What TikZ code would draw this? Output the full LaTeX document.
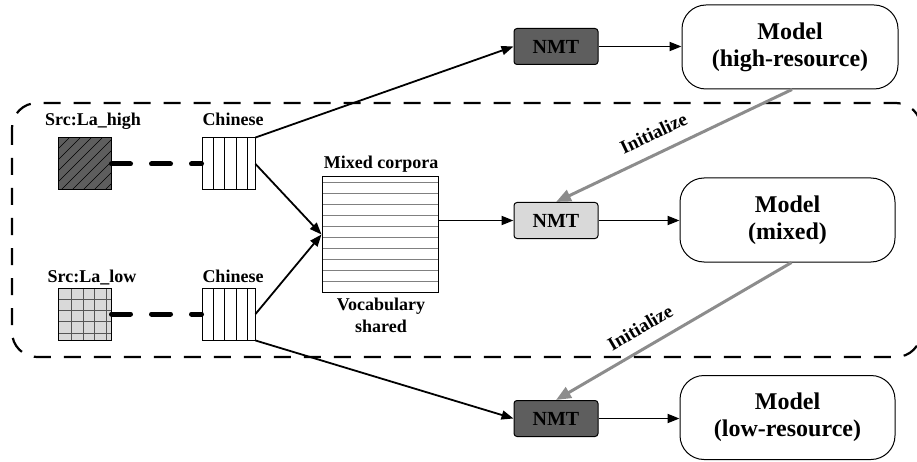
\documentclass[tikz,border=0pt]{standalone}
\usepackage{fontspec}
\setmainfont{Liberation Serif}[BoldFont={Liberation Serif Bold}]
\usetikzlibrary{arrows.meta,calc}
\definecolor{darkfill}{HTML}{5E5E5E}
\definecolor{lightfill}{HTML}{D9D9D9}
\definecolor{initgray}{HTML}{8C8C8C}
\definecolor{gridgray}{HTML}{555555}
\definecolor{linegray}{HTML}{808080}
\begin{document}
\begin{tikzpicture}[x=1pt,y=-1pt,
  lbl/.style={font=\rmfamily\bfseries\fontsize{18}{20}\selectfont, inner sep=0pt, anchor=base},
  initlbl/.style={font=\rmfamily\bfseries\fontsize{19}{20}\selectfont, inner sep=0pt},
  nmtbox/.style={draw, line width=1pt, rounded corners=3pt, minimum width=84pt, minimum height=36pt, inner sep=0pt, font=\rmfamily\bfseries\fontsize{20}{22}\selectfont},
  modelbox/.style={draw, line width=1pt, rounded corners=24pt, minimum width=215pt, minimum height=84pt, inner sep=0pt, align=center, font=\rmfamily\bfseries\fontsize{24}{27}\selectfont},
  sqbox/.style={draw, line width=1pt, minimum width=53pt, minimum height=52pt, inner sep=0pt},
  arr/.style={draw, line width=1.8pt, -{Triangle[length=12pt,width=9pt]}},
  initarr/.style={draw=initgray, line width=3pt, -{Triangle[length=15pt,width=12pt]}},
  thickdash/.style={line width=5pt, line cap=round, dash pattern=on 19pt off 21pt},
  boxdash/.style={line width=2.2pt, dash pattern=on 17pt off 13pt, rounded corners=25pt}
]
\useasboundingbox (0,0) rectangle (917,462);

% dashed frame
\draw[boxdash] (12,103) rectangle (921,357);

% source squares
\node[sqbox, fill=darkfill, path picture={
  \foreach \i in {0,11,...,110}{\draw[line width=0.7pt] ([xshift=\i pt]path picture bounding box.north west) -- ++(-60pt,-60pt);}
}] (sh) at (84.5,164) {};
\node[sqbox, fill=lightfill, path picture={
  \foreach \i in {13.5,25,36.5,48}{\draw[gridgray, line width=0.8pt] ([xshift=\i pt]path picture bounding box.north west) -- ++(0pt,-60pt);}
  \foreach \j in {11.7,22.3,33.3,45}{\draw[gridgray, line width=0.8pt] ([yshift=-\j pt]path picture bounding box.north west) -- ++(60pt,0pt);}
}] (sl) at (84.5,314) {};

% Chinese boxes
\tikzset{chinbox/.style={sqbox, fill=white, path picture={
  \foreach \i in {11,22,34,45}{\draw[line width=0.8pt] ([xshift=\i pt]path picture bounding box.north west) -- ++(0pt,-60pt);}
}}}
\node[chinbox] (c1) at (228.5,164) {};
\node[chinbox] (c2) at (228.5,314) {};

% mixed corpora
\node[draw, line width=1pt, minimum width=116pt, minimum height=115pt, inner sep=0pt, path picture={
  \foreach \k in {0,...,9}{\draw[linegray, line width=0.8pt] ([yshift=-5.3pt-\k*11pt]path picture bounding box.north west) -- ++(130pt,0pt);}
}] (mix) at (380,234.5) {};

% labels
\node[lbl] (lsh) at (93,126) {Src:La\_high};
\node[lbl] (lc1) at (233,126) {Chinese};
\node[lbl] (lsl) at (92,282) {Src:La\_low};
\node[lbl] (lc2) at (233,282) {Chinese};
\node[lbl] (lmix) at (381,169) {Mixed corpora};
\node[lbl] (lvoc) at (381,310) {Vocabulary};
\node[lbl] (lsha) at (381,332) {shared};

% NMT boxes
\node[nmtbox, fill=darkfill] (n1) at (556,46.5) {NMT};
\node[nmtbox, fill=lightfill] (n2) at (556,220.5) {NMT};
\node[nmtbox, fill=darkfill] (n3) at (556,418.5) {NMT};

% models
\node[modelbox, minimum width=216pt] (mh) at (790,47) {Model\\(high-resource)};
\node[modelbox] (mm) at (787.5,220) {Model\\(mixed)};
\node[modelbox] (ml) at (787.5,417.5) {Model\\(low-resource)};

% connectors
\draw[thickdash] (sh.east) -- (c1.west);
\draw[thickdash] (sl.east) -- (c2.west);
\draw[arr] (c1.north east) -- (n1.west);
\draw[arr] (c1.east) -- (mix.west);
\draw[arr] (c2.east) -- (mix.west);
\draw[arr] (c2.south east) -- (n3.west);
\draw[arr] (mix.east |- n2.west) -- (n2.west);
\draw[arr] (n1.east) -- (n1.east -| mh.west);
\draw[arr] (n2.east) -- (n2.east -| mm.west);
\draw[arr] (n3.east) -- (n3.east -| ml.west);

\draw[initarr] ($(mh.south)+(2,0)$) -- (n2.north)
  node[initlbl, pos=0.55, sloped, above=12pt] (i1) {Initialize};
\draw[initarr] ($(mm.south)+(4,0)$) -- (n3.north)
  node[initlbl, pos=0.6, sloped, above=12pt] (i2) {Initialize};
\end{tikzpicture}
\end{document}
